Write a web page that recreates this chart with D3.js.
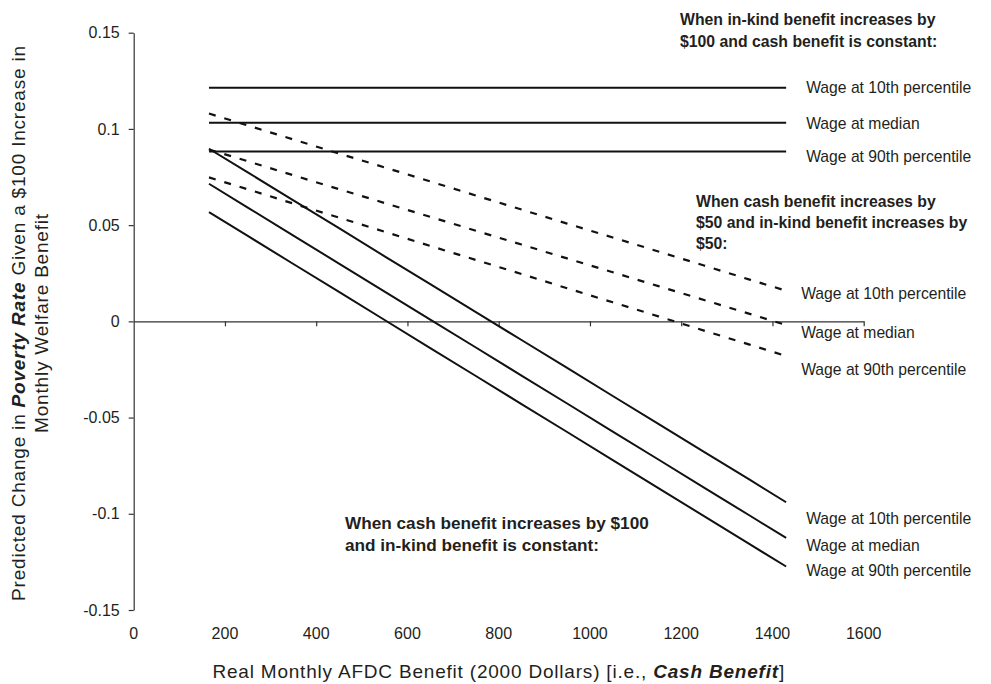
<!DOCTYPE html>
<html><head><meta charset="utf-8">
<script src="https://cdn.jsdelivr.net/npm/d3@7/dist/d3.min.js"></script>
<style>body{margin:0;background:#fff;}svg{display:block;font-family:"Liberation Sans",Arial,Helvetica,sans-serif;}</style>
</head><body>
<svg id="chart" width="991" height="684"></svg>
<script>
// ---------------- data ----------------
const benefit = [165, 250, 350, 450, 550, 650, 750, 850, 950, 1050, 1150, 1250, 1350, 1430];

// In-kind benefit +$100, cash constant (solid horizontal)
const inkindP10 = [0.1214,0.1214,0.1214,0.1214,0.1214,0.1214,0.1214,0.1214,0.1214,0.1214,0.1214,0.1214,0.1214,0.1214];
const inkindMed = [0.1032,0.1032,0.1032,0.1032,0.1032,0.1032,0.1032,0.1032,0.1032,0.1032,0.1032,0.1032,0.1032,0.1032];
const inkindP90 = [0.0882,0.0882,0.0882,0.0882,0.0882,0.0882,0.0882,0.0882,0.0882,0.0882,0.0882,0.0882,0.0882,0.0882];

// Cash +$50 and in-kind +$50 (dashed)
const mixedP10 = [0.1080,0.1018,0.0945,0.0872,0.0800,0.0727,0.0654,0.0581,0.0508,0.0436,0.0363,0.0290,0.0217,0.0159];
const mixedMed = [0.0893,0.0832,0.0759,0.0687,0.0615,0.0543,0.0471,0.0399,0.0327,0.0255,0.0183,0.0111,0.0039,-0.0019];
const mixedP90 = [0.0748,0.0686,0.0612,0.0539,0.0466,0.0392,0.0319,0.0246,0.0172,0.0099,0.0026,-0.0048,-0.0121,-0.0180];

// Cash +$100, in-kind constant (solid diagonal)
const cashP10 = [0.0897,0.0774,0.0629,0.0484,0.0338,0.0193,0.0048,-0.0097,-0.0242,-0.0388,-0.0533,-0.0678,-0.0823,-0.0940];
const cashMed = [0.0715,0.0591,0.0446,0.0300,0.0155,0.0009,-0.0136,-0.0282,-0.0427,-0.0573,-0.0718,-0.0864,-0.1009,-0.1125];
const cashP90 = [0.0568,0.0444,0.0298,0.0153,0.0007,-0.0139,-0.0284,-0.0430,-0.0575,-0.0721,-0.0867,-0.1012,-0.1158,-0.1274];

const wageLabels = ["Wage at 10th percentile", "Wage at median", "Wage at 90th percentile"];
const xTicks = [0, 200, 400, 600, 800, 1000, 1200, 1400, 1600];
const yTicks = [0.15, 0.1, 0.05, 0, -0.05, -0.1, -0.15];
const yTickLabels = ["0.15", "0.1", "0.05", "0", "-0.05", "-0.1", "-0.15"];

// ---------------- layout ----------------
const svg = d3.select("#chart");
const ink = "#231f20";
const x = d3.scaleLinear().domain([0, 1600]).range([133.7, 863.7]);
const y = d3.scaleLinear().domain([-0.15, 0.15]).range([610, 32.7]);

// y axis
const yAxis = d3.axisLeft(y).tickValues(yTicks)
  .tickFormat((d, i) => yTickLabels[i]).tickSize(5).tickSizeOuter(0).tickPadding(9);
const gy = svg.append("g").attr("transform", `translate(${x(0)},0)`).call(yAxis);
gy.select(".domain").attr("stroke", "#333").attr("stroke-width", 1.2);
gy.selectAll(".tick line").attr("stroke", "#333").attr("stroke-width", 1.2);
gy.selectAll(".tick text").attr("font-size", "16px").attr("fill", ink)
  .attr("font-family", "Liberation Sans, Arial, sans-serif");

// x axis along zero line
const xAxis = d3.axisBottom(x).tickValues(xTicks.slice(1)).tickFormat("").tickSize(5).tickSizeOuter(0);
const gx = svg.append("g").attr("transform", `translate(0,${y(0)})`).call(xAxis);
gx.select(".domain").attr("stroke", "#333").attr("stroke-width", 1.2);
gx.selectAll(".tick line").attr("stroke", "#333").attr("stroke-width", 1.2);

// x tick labels at bottom
svg.append("g").selectAll("text").data(xTicks).join("text")
  .attr("x", d => x(d)).attr("y", 633).attr("dy", "0.35em")
  .attr("text-anchor", "middle").attr("font-size", "16px").attr("fill", ink)
  .text(d => d);

// series
const line = d3.line().x((d, i) => x(benefit[i])).y(d => y(d));
const series = [
  {vals: inkindP10, dash: null, label: 0, lx: 20, ly: 0},
  {vals: inkindMed, dash: null, label: 1, lx: 20, ly: 0.6},
  {vals: inkindP90, dash: null, label: 2, lx: 20, ly: 5},
  {vals: mixedP10, dash: "7,9", label: 0, lx: 15, ly: 2.5},
  {vals: mixedMed, dash: "7,9", label: 1, lx: 15, ly: 7},
  {vals: mixedP90, dash: "7,9", label: 2, lx: 15, ly: 14},
  {vals: cashP10, dash: null, label: 0, lx: 20, ly: 16},
  {vals: cashMed, dash: null, label: 1, lx: 20, ly: 7.5},
  {vals: cashP90, dash: null, label: 2, lx: 20, ly: 4}
];
svg.append("g").selectAll("path").data(series).join("path")
  .attr("d", s => line(s.vals)).attr("fill", "none")
  .attr("stroke", "#111").attr("stroke-width", s => s.dash ? 2.2 : 2)
  .attr("stroke-dasharray", s => s.dash);

svg.append("g").selectAll("text").data(series).join("text")
  .attr("x", s => x(benefit[benefit.length - 1]) + s.lx)
  .attr("y", s => y(s.vals[s.vals.length - 1]) + s.ly)
  .attr("dy", "0.35em").attr("font-size", "15.7px").attr("fill", ink)
  .text(s => wageLabels[s.label]);

// annotations
function para(lines, x0, y0, lh, size) {
  const t = svg.append("text").attr("font-size", size).attr("font-weight", "bold").attr("fill", ink);
  lines.forEach((l, i) => {
    t.append("tspan").attr("x", x0).attr("y", y0 + i * lh).attr("dy", "0.35em").text(l);
  });
  return t;
}
para(["When in-kind benefit increases by", "$100 and cash benefit is constant:"], 680, 19, 22.5, "15.8px");
para(["When cash benefit increases by", "$50 and in-kind benefit increases by", "$50:"], 696, 201, 21.3, "15.8px");
para(["When cash benefit increases by $100", "and in-kind benefit is constant:"], 345, 523, 22, "17.2px");

// y axis title
const yt = svg.append("text").attr("transform", "translate(25,323) rotate(-90)")
  .attr("text-anchor", "middle").attr("font-size", "19px").attr("letter-spacing", "0.8px").attr("fill", ink);
const l1 = yt.append("tspan").attr("x", 0).attr("y", 0);
l1.append("tspan").text("Predicted Change in ");
l1.append("tspan").attr("font-weight", "bold").attr("font-style", "italic").text("Poverty Rate");
l1.append("tspan").text(" Given a $100 Increase in");
yt.append("tspan").attr("x", 0).attr("y", 23.3).text("Monthly Welfare Benefit");

// x axis title
const xt = svg.append("text").attr("x", x(800)).attr("y", 678)
  .attr("text-anchor", "middle").attr("font-size", "19px").attr("letter-spacing", "0.8px").attr("fill", ink);
xt.append("tspan").text("Real Monthly AFDC Benefit (2000 Dollars) [i.e., ");
xt.append("tspan").attr("font-weight", "bold").attr("font-style", "italic").text("Cash Benefit");
xt.append("tspan").text("]");
</script>
</body></html>
